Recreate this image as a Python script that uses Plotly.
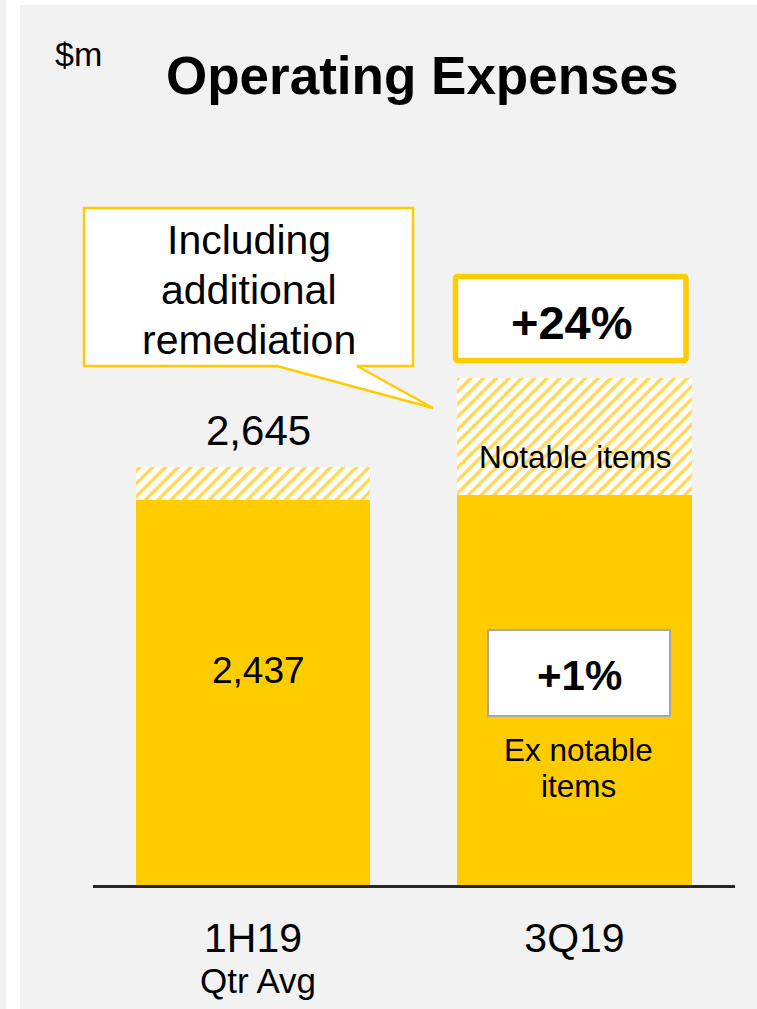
import plotly.graph_objects as go

# ---- data ----
categories = ["1H19", "3Q19"]
ex_notable = [2437, 2465]
notable_items = [208, 740]
total_labels = ["2,645", ""]
ex_labels = ["2,437", ""]

YELLOW = "#FFCC00"
HATCH = "#FFD95A"
GREY_BG = "#F2F2F2"
FONT = "Liberation Sans, Arial, sans-serif"

W, H = 757, 1009
L, R, T, B = 93, 22, 5, 124
PW = W - L - R
PH = H - T - B
AXIS_Y = H - B
SCALE = 385.5 / 2437.0  # px per $m
YMAX = PH / SCALE


def fx(px):
    return (px - L) / PW


def fy(py):
    return (AXIS_Y - py) / PH


fig = go.Figure()
fig.add_trace(go.Bar(
    x=categories, y=ex_notable, name="Ex notable items",
    marker=dict(color=YELLOW, line=dict(width=0)),
    width=0.728, hoverinfo="skip",
))
fig.add_trace(go.Bar(
    x=categories, y=notable_items, name="Notable items",
    marker=dict(color="white", line=dict(width=0),
                pattern=dict(shape="/", fgcolor=HATCH, bgcolor="white",
                             size=9, solidity=0.4, fillmode="replace")),
    width=0.728, hoverinfo="skip",
))

shapes = []
# page frame: white strip at left and top
shapes.append(dict(type="rect", xref="paper", yref="paper",
                   x0=fx(6), x1=fx(20), y0=fy(H + 5), y1=fy(-5),
                   fillcolor="white", line=dict(width=0), layer="below"))
shapes.append(dict(type="rect", xref="paper", yref="paper",
                   x0=fx(6), x1=fx(W + 5), y0=fy(5), y1=fy(-5),
                   fillcolor="white", line=dict(width=0), layer="below"))

# callout box with tail
pts = [(84, 208), (413, 208), (413, 366), (357, 366), (433, 408), (277, 366), (84, 366)]
path = "M " + " L ".join(f"{fx(a):.5f},{fy(b):.5f}" for a, b in pts) + " Z"
shapes.append(dict(type="path", xref="paper", yref="paper", path=path,
                   fillcolor="white", line=dict(color=YELLOW, width=2.5)))


def rounded_rect(x0, y0, x1, y1, r):
    p = [
        f"M {fx(x0 + r):.5f},{fy(y0):.5f}",
        f"L {fx(x1 - r):.5f},{fy(y0):.5f}",
        f"Q {fx(x1):.5f},{fy(y0):.5f} {fx(x1):.5f},{fy(y0 + r):.5f}",
        f"L {fx(x1):.5f},{fy(y1 - r):.5f}",
        f"Q {fx(x1):.5f},{fy(y1):.5f} {fx(x1 - r):.5f},{fy(y1):.5f}",
        f"L {fx(x0 + r):.5f},{fy(y1):.5f}",
        f"Q {fx(x0):.5f},{fy(y1):.5f} {fx(x0):.5f},{fy(y1 - r):.5f}",
        f"L {fx(x0):.5f},{fy(y0 + r):.5f}",
        f"Q {fx(x0):.5f},{fy(y0):.5f} {fx(x0 + r):.5f},{fy(y0):.5f}",
        "Z",
    ]
    return " ".join(p)


# +24% box
shapes.append(dict(type="path", xref="paper", yref="paper",
                   path=rounded_rect(455.5, 276.5, 686, 360.5, 2.5),
                   fillcolor="white", line=dict(color=YELLOW, width=5.5)))
# +1% box
shapes.append(dict(type="rect", xref="paper", yref="paper",
                   x0=fx(488), x1=fx(670), y0=fy(716), y1=fy(630),
                   fillcolor="white", line=dict(color="#A6A6A6", width=2)))

anns = []


def txt(text, px, py, size, bold=False):
    anns.append(dict(xref="paper", yref="paper", x=fx(px), y=fy(py),
                     xanchor="center", yanchor="middle", showarrow=False,
                     text=f"<b>{text}</b>" if bold else text,
                     font=dict(family=FONT, size=size, color="black")))


txt("$m", 78, 54, 34)
txt("Operating Expenses", 423, 75, 53, bold=True)
txt("Including", 249, 240, 41)
txt("additional", 249, 290, 41)
txt("remediation", 249, 340, 41)
txt("+24%", 572, 322, 47, bold=True)
txt("Notable items", 575, 457, 31.5)
txt("+1%", 579, 675, 42, bold=True)
txt("Ex notable", 578, 750, 31.5)
txt("items", 578, 786, 31.5)
txt("Qtr Avg", 258, 980, 35)

# value labels tied to bars
for i, c in enumerate(categories):
    if total_labels[i]:
        anns.append(dict(x=c, y=ex_notable[i] + notable_items[i], xref="x", yref="y",
                         text=total_labels[i], showarrow=False, yanchor="middle",
                         yshift=36, xshift=5, font=dict(family=FONT, size=42, color="black")))
    if ex_labels[i]:
        anns.append(dict(x=c, y=ex_notable[i], xref="x", yref="y",
                         text=ex_labels[i], showarrow=False, yanchor="middle",
                         yshift=-(670 - 499.5), xshift=5,
                         font=dict(family=FONT, size=37, color="black")))

fig.update_layout(
    width=W, height=H,
    margin=dict(l=L, r=R, t=T, b=B, pad=0),
    paper_bgcolor=GREY_BG, plot_bgcolor=GREY_BG,
    barmode="stack", showlegend=False,
    shapes=shapes, annotations=anns,
    xaxis=dict(type="category", range=[-0.4977, 1.4992], showgrid=False,
               showline=True, linecolor="#262626", linewidth=2.5, ticks="",
               tickfont=dict(family=FONT, size=41, color="black"),
               ticklabelstandoff=15, zeroline=False, fixedrange=True),
    yaxis=dict(range=[0, YMAX], visible=False, showgrid=False, zeroline=False,
               fixedrange=True),
    font=dict(family=FONT),
)

fig.write_html(
    "out.html",
    config={"displayModeBar": False},
    post_script="document.body.style.margin='0';document.body.style.overflow='hidden';",
)
